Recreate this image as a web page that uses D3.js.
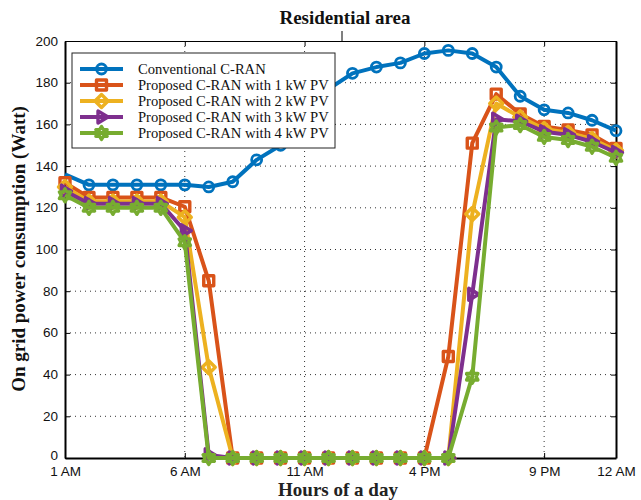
<!DOCTYPE html>
<html>
<head>
<meta charset="utf-8">
<script src="https://cdn.jsdelivr.net/npm/d3@7"></script>
<style>
  body { margin: 0; background: #fff; }
  svg { display: block; }
  .grid line { stroke: #333; stroke-width: 1; stroke-dasharray: 1 4; }
  .axis text { font-family: 'Liberation Sans', Arial, sans-serif; font-size: 13.5px; fill: #111; }
</style>
</head>
<body>
<div class="chart"></div>
<script>
// Data
const hours = d3.range(1, 25);
const tickHours = [1, 6, 11, 16, 21, 24];
const tickLabels = ['1 AM', '6 AM', '11 AM', '4 PM', '9 PM', '12 AM'];
const yTicks = [0, 20, 40, 60, 80, 100, 120, 140, 160, 180, 200];

const seriesNames = [
    'Conventional C-RAN',
    'Proposed C-RAN with 1 kW PV',
    'Proposed C-RAN with 2 kW PV',
    'Proposed C-RAN with 3 kW PV',
    'Proposed C-RAN with 4 kW PV'
];
const conventional = [136, 131, 131, 131, 131, 131, 130, 132.5, 143, 150, 165, 177, 184.5, 187.5, 189.5, 194, 195.5, 194, 187.5, 173.5, 167, 165.5, 162, 157];
const pv1kW = [132, 125, 125, 125, 125, 120.5, 85, 0, 0, 0, 0, 0, 0, 0, 0, 0, 48.7, 151, 174.5, 165, 159, 157.3, 155, 148.5];
const pv2kW = [130, 123, 123, 123, 123, 115.5, 43.5, 0, 0, 0, 0, 0, 0, 0, 0, 0, 0, 117, 170, 163.5, 157.8, 156, 153, 147.5];
const pv3kW = [128, 122, 122, 122, 122, 109, 1.5, 0, 0, 0, 0, 0, 0, 0, 0, 0, 0, 78.5, 162.5, 161.5, 156.5, 155, 151.7, 146.5];
const pv4kW = [126, 120, 120, 120, 120, 103.5, 0, 0, 0, 0, 0, 0, 0, 0, 0, 0, 0, 39, 158.5, 159.7, 154, 152.5, 149.3, 144];

const colors = ['#0072BD', '#D95319', '#EDB120', '#7E2F8E', '#77AC30'];
const markers = ['circle', 'square', 'diamond', 'triangle', 'hexagram'];

// Marker paths
function markerPath(type) {
    if (type === 'square') return 'M-5,-5H5V5H-5Z';
    if (type === 'diamond') return 'M0,-6.5L6.5,0L0,6.5L-6.5,0Z';
    if (type === 'triangle') return 'M6.5,0L-3.5,-6L-3.5,6Z';
    if (type === 'hexagram') {
        const pts = d3.range(12).map(i => {
            const r = i % 2 === 0 ? 6.5 : 3.8;
            const a = -Math.PI / 2 + i * Math.PI / 6;
            return [r * Math.cos(a), r * Math.sin(a)];
        });
        return 'M' + pts.map(p => p.join(',')).join('L') + 'Z';
    }
    return null;
}

function drawMarker(g, type, color, x, y) {
    if (type === 'circle') {
        g.append('circle')
            .attr('cx', x).attr('cy', y).attr('r', 5)
            .style('fill', 'none')
            .style('stroke', color)
            .style('stroke-width', 2.8);
    } else {
        g.append('path')
            .attr('d', markerPath(type))
            .attr('transform', `translate(${x},${y})`)
            .style('fill', 'none')
            .style('stroke', color)
            .style('stroke-width', 3.4)
            .style('stroke-linejoin', 'round');
    }
}

// Layout
const margin = {top: 41, right: 25, bottom: 42, left: 65};
const width = 641 - margin.left - margin.right;
const height = 500 - margin.top - margin.bottom;

const xScale = d3.scaleLinear().domain([1, 24]).range([0, width]);
const yScale = d3.scaleLinear().domain([0, 200]).range([height, 0]);

const root = d3.select('.chart')
    .append('svg')
    .attr('width', 641)
    .attr('height', 500);

const svg = root.append('g')
    .attr('transform', `translate(${margin.left}, ${margin.top})`);

// Grid
const grid = svg.append('g').attr('class', 'grid');
grid.selectAll('.gx')
    .data(tickHours.slice(1, -1))
    .enter()
    .append('line')
    .attr('x1', d => xScale(d)).attr('x2', d => xScale(d))
    .attr('y1', 0).attr('y2', height);
grid.selectAll('.gy')
    .data(yTicks.slice(1, -1))
    .enter()
    .append('line')
    .attr('x1', 0).attr('x2', width)
    .attr('y1', d => yScale(d)).attr('y2', d => yScale(d));

// Axes
const xAxis = d3.axisBottom(xScale)
    .tickValues(tickHours)
    .tickFormat((d, i) => tickLabels[i])
    .tickSizeInner(-5)
    .tickSizeOuter(0)
    .tickPadding(8);

const xAxisDraw = svg.append('g')
    .attr('class', 'x axis')
    .attr('transform', `translate(0, ${height})`)
    .call(xAxis);

const yAxis = d3.axisLeft(yScale)
    .tickValues(yTicks)
    .tickSizeInner(-5)
    .tickSizeOuter(0)
    .tickPadding(7);

const yAxisDraw = svg.append('g')
    .attr('class', 'y axis')
    .call(yAxis);

yAxisDraw.selectAll('.tick text').attr('dy', d => d === 0 ? '0.1em' : '0.3em');

[xAxisDraw, yAxisDraw].forEach(a => {
    a.select('.domain').style('stroke', '#000').style('stroke-width', 2);
    a.selectAll('.tick line').style('stroke', '#000');
});

// top and right ticks + box
svg.append('g').call(d3.axisTop(xScale).tickValues(tickHours).tickSizeInner(-5).tickSizeOuter(0).tickFormat(''))
    .call(g => g.select('.domain').style('stroke', '#000').style('stroke-width', 1.2));
svg.append('g').attr('transform', `translate(${width},0)`)
    .call(d3.axisRight(yScale).tickValues(yTicks).tickSizeInner(-5).tickSizeOuter(0).tickFormat(''))
    .call(g => g.select('.domain').style('stroke', '#000').style('stroke-width', 2));

// Lines
const allSeries = [conventional, pv1kW, pv2kW, pv3kW, pv4kW];
const line = d3.line()
    .x((d, i) => xScale(hours[i]))
    .y(d => yScale(d));

allSeries.forEach((values, s) => {
    const g = svg.append('g').attr('class', 'series');
    g.append('path')
        .datum(values)
        .attr('d', line)
        .style('fill', 'none')
        .style('stroke', colors[s])
        .style('stroke-width', 4)
        .style('stroke-linejoin', 'round');
    values.forEach((v, i) => {
        if (s === 0 && i === 0) return;
        drawMarker(g, markers[s], colors[s], xScale(hours[i]), yScale(v));
    });
});

// Legend
const legend = svg.append('g')
    .attr('transform', `translate(${72 - margin.left}, ${53 - margin.top})`);
legend.append('rect')
    .attr('width', 263).attr('height', 95)
    .style('fill', '#fff')
    .style('stroke', '#222')
    .style('stroke-width', 1);

seriesNames.forEach((name, s) => {
    const y = 16 + s * 16;
    const row = legend.append('g');
    row.append('line')
        .attr('x1', 8).attr('x2', 51)
        .attr('y1', y).attr('y2', y)
        .style('stroke', colors[s])
        .style('stroke-width', 4);
    drawMarker(row, markers[s], colors[s], 29.5, y);
    row.append('text')
        .attr('x', 66).attr('y', y)
        .attr('dy', '0.35em')
        .text(name)
        .style('font-family', "'Liberation Serif', 'Times New Roman', serif")
        .style('font-size', '14.6px')
        .style('fill', '#111');
});

// Header and axis titles
root.append('text')
    .attr('x', 345).attr('y', 24)
    .attr('text-anchor', 'middle')
    .text('Residential area')
    .style('font-family', "'Liberation Serif', 'Times New Roman', serif")
    .style('font-weight', 'bold')
    .style('font-size', '19px')
    .style('fill', '#111');

root.append('line')
    .attr('x1', 342).attr('x2', 342)
    .attr('y1', 31).attr('y2', 41)
    .style('stroke', '#000')
    .style('stroke-width', 1);

root.append('text')
    .attr('x', 338).attr('y', 496)
    .attr('text-anchor', 'middle')
    .text('Hours of a day')
    .style('font-family', "'Liberation Serif', 'Times New Roman', serif")
    .style('font-weight', 'bold')
    .style('font-size', '19px')
    .style('fill', '#222');

root.append('text')
    .attr('transform', 'translate(25, 249) rotate(-90)')
    .attr('text-anchor', 'middle')
    .text('On grid power consumption (Watt)')
    .style('font-family', "'Liberation Serif', 'Times New Roman', serif")
    .style('font-weight', 'bold')
    .style('font-size', '19px')
    .style('fill', '#111');
</script>
</body>
</html>
